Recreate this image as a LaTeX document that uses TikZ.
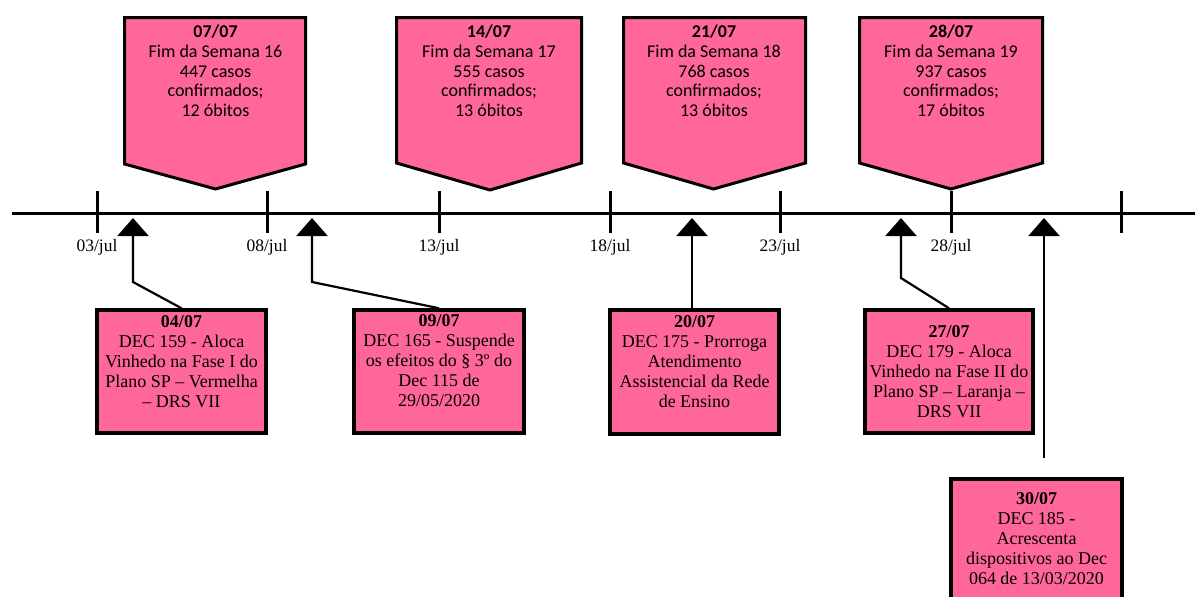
\documentclass[tikz,border=0pt]{standalone}
\usepackage{fontspec}
\setmainfont{Liberation Serif}
\newfontfamily\calfont{Carlito}
\usetikzlibrary{arrows.meta}
\definecolor{boxpink}{HTML}{FF6699}

\begin{document}
\begin{tikzpicture}[x=1pt,y=-1pt,
  axis/.style={line width=3pt,black},
  tick/.style={line width=3pt,black},
  daylabel/.style={anchor=base,inner sep=0pt,font=\fontsize{17.5}{19}\selectfont},
  callout/.style={draw=black,line width=3pt,fill=boxpink,line join=miter},
  calltext/.style={anchor=north,align=center,inner sep=0pt,
    font=\calfont\fontsize{18}{19.6}\selectfont},
  decbox/.style={draw=black,line width=3.5pt,fill=boxpink,inner sep=0pt},
  dectext/.style={anchor=north,align=center,inner sep=0pt,
    font=\fontsize{18}{20}\selectfont},
  pointer/.style={line width=2.2pt,black,line join=miter,
    -{Triangle[width=31pt,length=18pt]}},
]
\useasboundingbox (0,0) rectangle (1195,597);

% ---- time axis ----
\coordinate (axL) at (12,213);
\coordinate (axR) at (1195,213);
\draw[axis] (axL) -- (axR);
\foreach \x/\d in {97/03,267/08,439/13,610/18,780/23,951/28}{
  \draw[tick] (\x,191) -- (\x,233);
  \node[daylabel] (lab\d) at (\x,251) {\d/jul};
}
\draw[tick] (1121,191) -- (1121,233);

% ---- weekly callouts above the axis ----
\path[callout] (124.5,17.5) -- (305.5,17.5) -- (305.5,164) -- (215.5,189) -- (124.5,164) -- cycle;
\node[calltext] (w16) at (215.5,25) {\textbf{07/07}\\Fim da Semana 16\\447 casos\\confirmados;\\12 óbitos};

\path[callout] (396.5,17.5) -- (581.5,17.5) -- (581.5,163) -- (490,190) -- (396.5,163) -- cycle;
\node[calltext] (w17) at (489,25) {\textbf{14/07}\\Fim da Semana 17\\555 casos\\confirmados;\\13 óbitos};

\path[callout] (623.5,17.5) -- (805.5,17.5) -- (805.5,163) -- (713.5,189) -- (623.5,163) -- cycle;
\node[calltext] (w18) at (714,25) {\textbf{21/07}\\Fim da Semana 18\\768 casos\\confirmados;\\13 óbitos};

\path[callout] (859.5,17.5) -- (1042.5,17.5) -- (1042.5,163) -- (951,189) -- (859.5,163) -- cycle;
\node[calltext] (w19) at (951,25) {\textbf{28/07}\\Fim da Semana 19\\937 casos\\confirmados;\\17 óbitos};

% ---- decree boxes below the axis ----
\node[decbox,minimum width=169pt,minimum height=123pt] (d159) at (181.5,371.5) {};
\node[dectext] (t159) at (181.5,315) {\textbf{04/07}\\DEC 159 - Aloca\\Vinhedo na Fase I do\\Plano SP – Vermelha\\– DRS VII};

\node[decbox,minimum width=170pt,minimum height=123pt] (d165) at (439,371.5) {};
\node[dectext] (t165) at (439,314) {\textbf{09/07}\\DEC 165 - Suspende\\os efeitos do § 3º do\\Dec 115 de\\29/05/2020};

\node[decbox,minimum width=169pt,minimum height=124pt] (d175) at (694.5,372) {};
\node[dectext] (t175) at (694.5,315) {\textbf{20/07}\\DEC 175 - Prorroga\\Atendimento\\Assistencial da Rede\\de Ensino};

\node[decbox,minimum width=168pt,minimum height=123pt] (d179) at (949,371.5) {};
\node[dectext] (t179) at (949,325) {\textbf{27/07}\\DEC 179 - Aloca\\Vinhedo na Fase II do\\Plano SP – Laranja –\\DRS VII};

\node[decbox,minimum width=171pt,minimum height=141pt] (d185) at (1036.5,549.5) {};
\node[dectext] (t185) at (1036.5,492) {\textbf{30/07}\\DEC 185 -\\Acrescenta\\dispositivos ao Dec\\064 de 13/03/2020};

% ---- pointers from the decree boxes to their dates ----
\coordinate (p159) at (133,218);
\coordinate (p165) at (312,218);
\coordinate (p175) at (692,218);
\coordinate (p179) at (901,218);
\coordinate (p185) at (1044,218);
\coordinate (e185) at (1044,458);

\draw[pointer] (d159.north) -- (133,282) -- (p159);
\draw[pointer] (d165.north) -- (312,282) -- (p165);
\draw[pointer] (d175.north -| p175) -- (p175);
\draw[pointer] (d179.north) -- (901,278) -- (p179);
\draw[pointer] (e185) -- (p185);
\end{tikzpicture}
\end{document}
